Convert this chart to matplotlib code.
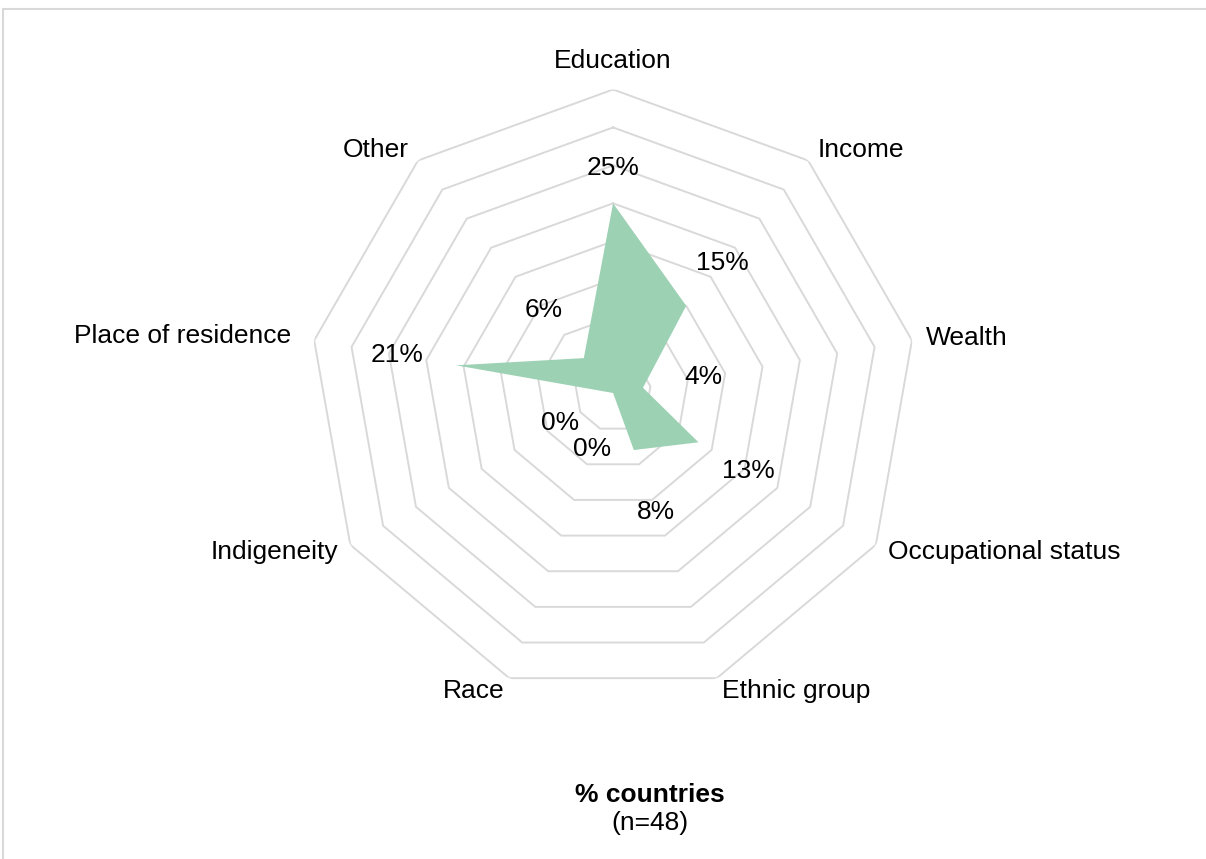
import numpy as np
import matplotlib
matplotlib.use("Agg")
import matplotlib.pyplot as plt
from matplotlib.patches import Rectangle

# data
categories = ["Education", "Income", "Wealth", "Occupational status", "Ethnic group",
              "Race", "Indigeneity", "Place of residence", "Other"]
values = [25, 15, 4, 13, 8, 0, 0, 21, 6]
value_labels = ["25%", "15%", "4%", "13%", "8%", "0%", "0%", "21%", "6%"]
rings = [5, 10, 15, 20, 25, 30, 35, 40]

# label distances (pixels) from the point / outer ring
label_dist = [35, 56, 61, 58, 66, 60, 61, 60, 63]
cat_dist = [29, 14, 14, 14, 14, 14, 14, 23, 14]

plt.rcParams["font.family"] = ["Liberation Sans", "DejaVu Sans"]
fs = 19

fig = plt.figure(figsize=(12.06, 8.59), dpi=100)
ax = fig.add_axes([0.2567, 0.1892, 0.5033, 0.7066], polar=True)
ax.set_theta_zero_location("N")
ax.set_theta_direction(-1)

n = len(categories)
theta = np.arange(n) * 2 * np.pi / n
closed = np.append(theta, theta[0])

for r in rings:
    ax.plot(closed, [r] * (n + 1), color="#d9d9d9", lw=1.4, zorder=1)

ax.fill(closed, values + [values[0]], color="#9dd1b4", lw=0, zorder=2)

for t, v, lab, d in zip(theta, values, value_labels, label_dist):
    ax.annotate(lab, (t, v), xytext=(d * np.sin(t), d * np.cos(t)),
                textcoords="offset pixels", ha="center", va="center", fontsize=fs, zorder=3)

for t, cat, d in zip(theta, categories, cat_dist):
    s = np.sin(t)
    ha = "center" if abs(s) < 0.1 else ("left" if s > 0 else "right")
    ax.annotate(cat, (t, rings[-1]), xytext=(d * s, d * np.cos(t)),
                textcoords="offset pixels", ha=ha, va="center", fontsize=fs,
                annotation_clip=False)

ax.set_ylim(0, 40)
ax.set_xticks([])
ax.set_yticks([])
ax.grid(False)
ax.spines["polar"].set_visible(False)
ax.patch.set_alpha(0)

fig.text(650 / 1206, 1 - 795 / 859, "% countries", fontsize=fs, fontweight="bold",
         ha="center", va="center")
fig.text(650 / 1206, 1 - 823 / 859, "(n=48)", fontsize=fs, ha="center", va="center")

fig.patches.append(Rectangle((3.5 / 1206, -0.1), 2, 1 - 8.5 / 859 + 0.1,
                             transform=fig.transFigure, fill=False,
                             ec="#d9d9d9", lw=1.5))

fig.savefig("out.png", dpi=100)
